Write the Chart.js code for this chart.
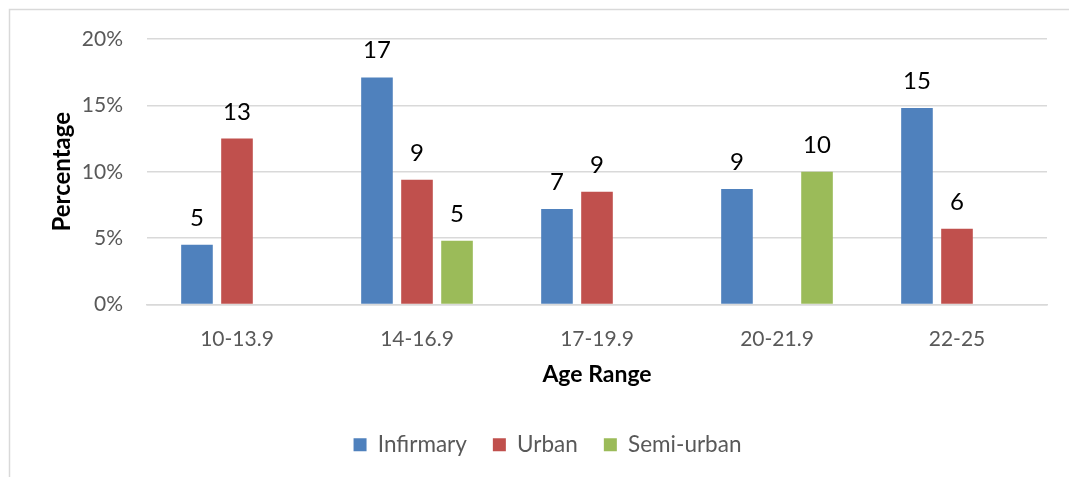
<!DOCTYPE html>
<html>
<head>
<meta charset="utf-8">
<script src="https://cdn.jsdelivr.net/npm/chart.js@4.4.1/dist/chart.umd.min.js"></script>
<style>
  html, body { margin: 0; padding: 0; background: #ffffff; }
  #main { position: relative; width: 1069px; height: 477px; }
</style>
</head>
<body>
<div id="main"><canvas id="grafica"></canvas></div>
<script>
// Datos de la grafica
const categorias = ['10-13.9', '14-16.9', '17-19.9', '20-21.9', '22-25'];
const infirmary = [4.5, 17.1, 7.2, 8.7, 14.8];
const urban = [12.5, 9.4, 8.5, null, 5.7];
const semiUrban = [null, 4.8, null, 10.0, null];
const ticksY = [0, 5, 10, 15, 20];

const fuente = 'Lato, "Open Sans", sans-serif';

// Marco gris alrededor de la grafica
const marco = {
    id: 'marco',
    beforeDraw(chart) {
        const ctx = chart.ctx;
        ctx.save();
        ctx.strokeStyle = '#d9d9d9';
        ctx.lineWidth = 1.5;
        ctx.strokeRect(9.5, 9.5, 1100, 520);
        ctx.restore();
    }
};

// Etiquetas con el valor encima de cada barra
const etiquetas = {
    id: 'etiquetas',
    afterDatasetsDraw(chart) {
        const ctx = chart.ctx;
        ctx.save();
        ctx.font = '24px ' + fuente;
        ctx.fillStyle = '#000000';
        ctx.textAlign = 'center';
        ctx.textBaseline = 'alphabetic';
        chart.data.datasets.forEach((ds, i) => {
            chart.getDatasetMeta(i).data.forEach((bar, j) => {
                const v = ds.data[j];
                if (v === null) return;
                ctx.fillText(Math.round(v), bar.x, bar.y - 19);
            });
        });
        ctx.restore();
    }
};

let canvas = document.getElementById('grafica');

new Chart(canvas, {
    type: 'bar',
    data: {
        labels: categorias,
        datasets: [
            { label: 'Infirmary', data: infirmary, backgroundColor: '#4f81bd' },
            { label: 'Urban', data: urban, backgroundColor: '#c0504d' },
            { label: 'Semi-urban', data: semiUrban, backgroundColor: '#9bbb59' }
        ]
    },
    options: {
        responsive: true,
        maintainAspectRatio: false,
        animation: false,
        categoryPercentage: 0.667,
        barPercentage: 0.79,
        layout: { padding: { left: 48, right: 22, top: 39, bottom: 11 } },
        scales: {
            x: {
                grid: { display: false },
                border: { color: '#d9d9d9', width: 1.5 },
                ticks: { color: '#595959', font: { family: fuente, size: 21 }, padding: 14 },
                title: {
                    display: true,
                    text: 'Age Range',
                    color: '#000000',
                    font: { family: fuente, size: 23, weight: 'bold' },
                    padding: { top: 8, bottom: 19 }
                },
                afterFit(scale) { scale.height = 103; }
            },
            y: {
                min: 0,
                max: 20,
                afterBuildTicks(scale) { scale.ticks = ticksY.map(v => ({ value: v })); },
                grid: { color: '#d9d9d9', lineWidth: 1.5, drawTicks: false },
                border: { display: false },
                ticks: {
                    color: '#595959',
                    font: { family: fuente, size: 21 },
                    padding: 24,
                    callback: v => v + '%'
                },
                title: {
                    display: true,
                    text: 'Percentage',
                    color: '#000000',
                    font: { family: fuente, size: 24, weight: 'bold' },
                    padding: { top: 0, bottom: 0 }
                },
                afterFit(scale) { scale.width = 99; }
            }
        },
        plugins: {
            legend: {
                position: 'bottom',
                labels: {
                    color: '#595959',
                    font: { family: fuente, size: 22.5 },
                    boxWidth: 13,
                    boxHeight: 13,
                    padding: 26
                }
            },
            tooltip: { enabled: false }
        }
    },
    plugins: [marco, etiquetas]
});
</script>
</body>
</html>
